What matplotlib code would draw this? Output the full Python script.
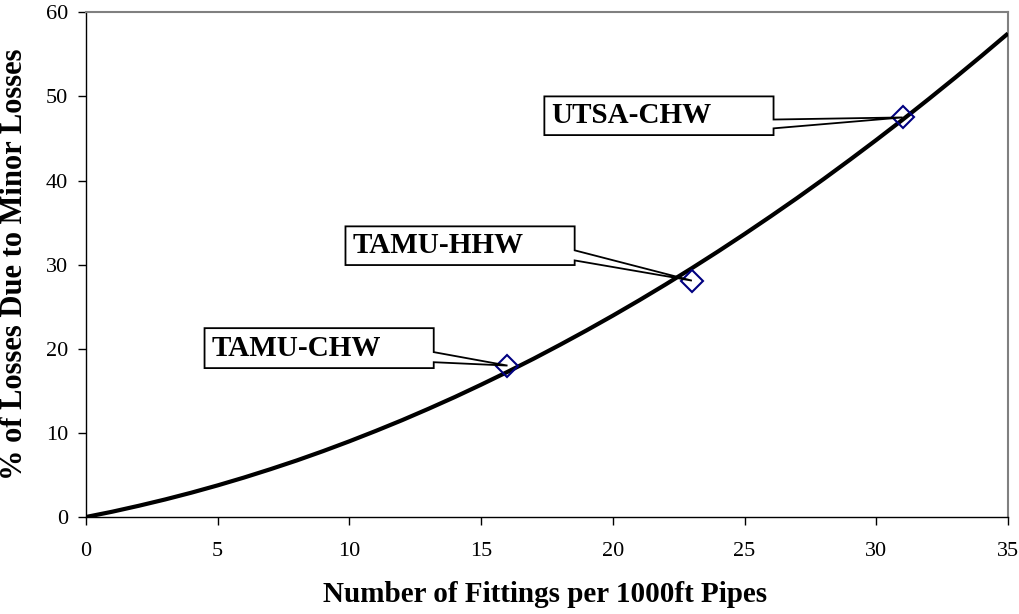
import matplotlib
matplotlib.use("Agg")
import matplotlib.pyplot as plt
from matplotlib.patches import Polygon

plt.rcParams['font.family'] = ['Liberation Serif', 'DejaVu Serif']

# trend curve
curve_x = list(range(0, 36))
curve_y = [0, 0.63, 1.33, 2.08, 2.89, 3.76, 4.69, 5.68, 6.72, 7.83,
           9.0, 10.23, 11.51, 12.86, 14.26, 15.73, 17.25, 18.83, 20.48, 22.18,
           23.94, 25.76, 27.64, 29.58, 31.58, 33.64, 35.76, 37.93, 40.17, 42.47,
           44.82, 47.23, 49.71, 52.24, 54.83, 57.48]

# measured sites
site_names = ['TAMU-CHW', 'TAMU-HHW', 'UTSA-CHW']
site_x = [16, 23, 31]
site_y = [18.0, 28.1, 47.5]

# callout boxes: left, right, bottom, top, wedge bottom, wedge top (data units)
boxes = [
    (4.5, 13.2, 17.7, 22.45, 18.4, 19.6),
    (9.85, 18.55, 29.95, 34.55, 30.5, 31.7),
    (17.4, 26.1, 45.4, 50.0, 46.2, 47.25),
]

fig = plt.figure(figsize=(10.19, 6.14), dpi=100)
ax = fig.add_axes([0.0844, 0.158, 0.9048, 0.822])

ax.plot(curve_x, curve_y, color='black', lw=3, zorder=3, solid_capstyle='butt',
        solid_joinstyle='round')
ax.plot(site_x, site_y, linestyle='none', marker='D', markersize=11.5,
        markerfacecolor='none', markeredgecolor='#000080', markeredgewidth=1.5, zorder=4)

# callouts
for name, px, py, b in zip(site_names, site_x, site_y, boxes):
    l, r, bot, top, w0, w1 = b
    pts = [(l, bot), (r, bot), (r, w0), (px, py), (r, w1), (r, top), (l, top)]
    ax.add_patch(Polygon(pts, closed=True, facecolor='white', edgecolor='black',
                         lw=1.3, zorder=5, joinstyle='miter'))
    ax.text(l + 0.25, (bot + top) / 2, name, fontsize=21, fontweight='bold',
            va='center', ha='left', zorder=6)

ax.set_xlim(0, 35)
ax.set_ylim(0, 60)
ax.set_xticks(range(0, 36, 5))
ax.set_yticks(range(0, 61, 10))
ax.tick_params(direction='out', length=6, width=1, labelsize=16, colors='black')
ax.tick_params(axis='x', pad=12)
ax.tick_params(axis='y', pad=7)

for s in ['top', 'right']:
    ax.spines[s].set_color('#808080')
    ax.spines[s].set_linewidth(1.5)
for s in ['left', 'bottom']:
    ax.spines[s].set_color('black')
    ax.spines[s].set_linewidth(1)

ax.set_xlabel('Number of Fittings per 1000ft Pipes', fontsize=21, fontweight='bold')
ax.set_ylabel('% of Losses Due to Minor Losses', fontsize=22, fontweight='bold')
ax.xaxis.set_label_coords(0.498, -0.127)
ax.yaxis.set_label_coords(-0.062, 0.5)

fig.savefig('out.png', dpi=100)
